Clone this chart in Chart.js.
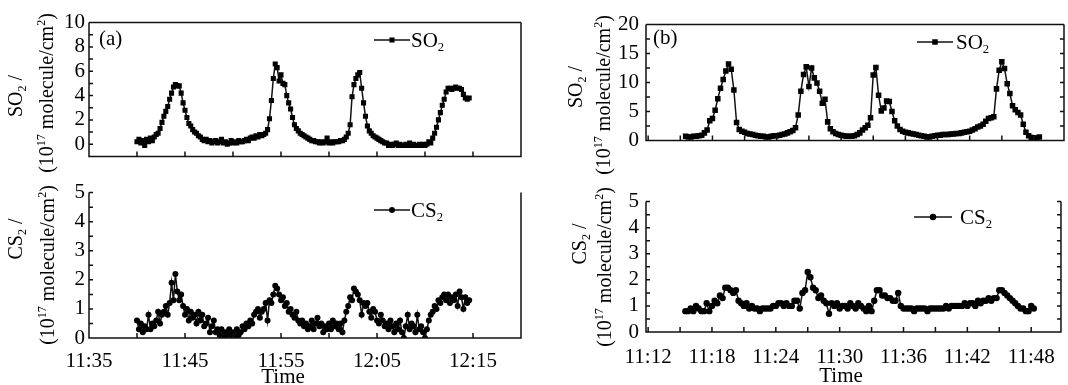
<!DOCTYPE html>
<html>
<head>
<meta charset="utf-8">
<script src="https://cdn.jsdelivr.net/npm/chart.js@4.4.1/dist/chart.umd.min.js"></script>
<style>
    body { margin: 0; background: #fff; width: 1068px; height: 385px; position: relative; overflow: hidden; font-family: "Liberation Serif", "Times New Roman", serif; color: #000; }
    canvas { position: absolute; }
    .txt { position: absolute; white-space: nowrap; line-height: 1; font-size: 21px; transform: translate(0, -50%); }
    .ytitle { position: absolute; white-space: nowrap; line-height: 1; font-size: 20px; transform: translate(-50%, -50%) rotate(-90deg); }
    .mid { transform: translate(-50%, -50%); }
    sub { font-size: 0.6em; vertical-align: -0.35em; line-height: 0; }
    sup { font-size: 0.6em; vertical-align: 0.65em; line-height: 0; }
</style>
</head>
<body>
<canvas id="aTop"></canvas>
<canvas id="aBottom"></canvas>
<canvas id="bTop"></canvas>
<canvas id="bBottom"></canvas>

<div class="txt" style="left:99px;top:38px">(a)</div>
<div class="txt" style="left:653px;top:37px">(b)</div>

<div class="txt" style="left:411px;top:40px">SO<sub>2</sub></div>
<div class="txt" style="left:411px;top:210px">CS<sub>2</sub></div>
<div class="txt" style="left:956px;top:42px">SO<sub>2</sub></div>
<div class="txt" style="left:960px;top:217px">CS<sub>2</sub></div>

<div class="ytitle" style="left:15px;top:96px">SO<sub>2</sub> /</div>
<div class="ytitle" style="left:46px;top:93px">(10<sup>17</sup> molecule/cm<sup>2</sup>)</div>
<div class="ytitle" style="left:15px;top:239px">CS<sub>2</sub> /</div>
<div class="ytitle" style="left:47px;top:265px">(10<sup>17</sup> molecule/cm<sup>2</sup>)</div>
<div class="ytitle" style="left:575px;top:87px">SO<sub>2</sub> /</div>
<div class="ytitle" style="left:603px;top:95px">(10<sup>17</sup> molecule/cm<sup>2</sup>)</div>
<div class="ytitle" style="left:579px;top:244px">CS<sub>2</sub> /</div>
<div class="ytitle" style="left:604px;top:267px">(10<sup>17</sup> molecule/cm<sup>2</sup>)</div>

<div class="txt mid" style="left:283px;top:376px">Time</div>
<div class="txt mid" style="left:841px;top:375px">Time</div>

<script>
// time is in minutes after 11:00
// panel (a): one reading every 0.2 min starting 11:40
const startA = 40;
const stepA = 0.2;
const so2A = [
    0.2, 0.4, 0.1, 0.3, -0.1, 0.4, 0.2, 0.5, 0.3, 0.6,
    0.8, 0.9, 1.3, 1.8, 2.3, 2.7, 3.1, 3.7, 4.2, 4.7,
    4.9, 4.8, 4.8, 4.2, 3.4, 2.8, 2.2, 1.7, 1.5, 1.2,
    1.0, 0.9, 0.7, 0.6, 0.4, 0.3, 0.4, 0.2, 0.3, 0.1,
    0.2, 0.3, 0.1, 0.2, 0.4, 0.1, 0.2, 0.0, 0.1, 0.3,
    0.1, 0.2, 0.1, 0.3, 0.2, 0.2, 0.3, 0.4, 0.3, 0.5,
    0.6, 0.5, 0.7, 0.6, 0.8, 0.7, 0.8, 0.9, 1.2, 2.1,
    3.6, 5.4, 6.6, 6.3, 5.2, 5.7, 5.0, 4.9, 4.0, 3.4,
    2.9, 2.2, 1.6, 1.3, 1.1, 0.9, 0.8, 0.7, 0.6, 0.5,
    0.4, 0.3, 0.3, 0.2, 0.2, 0.1, 0.2, 0.1, 0.2, 0.5,
    0.1, 0.2, 0.1, 0.2, 0.2, 0.2, 0.3, 0.3, 0.4, 0.6,
    0.9, 1.6, 3.9, 4.9, 5.4, 5.7, 5.9, 4.6, 3.4, 2.3,
    1.5, 1.1, 0.9, 0.7, 0.6, 0.5, 0.4, 0.3, 0.2, 0.1,
    0.1, -0.1, 0.0, -0.1, 0.0, 0.1, -0.1, 0.0, -0.1, -0.1,
    0.0, -0.1, 0.1, -0.1, 0.0, -0.1, -0.1, 0.0, -0.1, 0.0,
    -0.1, 0.0, 0.2, 0.1, 0.5, 0.9, 1.4, 2.0, 2.6, 3.2,
    3.7, 4.3, 4.6, 4.6, 4.5, 4.6, 4.7, 4.6, 4.6, 4.5,
    4.1, 3.8, 3.7, 3.8
];
const cs2A = [
    0.6, 0.3, 0.5, 0.2, 0.4, 0.3, 0.8, 0.3, 0.5, 0.4,
    0.6, 0.9, 0.5, 0.8, 0.9, 1.1, 0.8, 1.2, 1.9, 1.3,
    2.2, 1.6, 1.3, 1.5, 1.1, 0.8, 1.0, 0.6, 0.9, 0.7,
    0.8, 0.5, 0.9, 0.6, 0.8, 0.4, 0.5, 0.7, 0.2, 0.4,
    0.6, 0.2, 0.3, 0.1, 0.3, 0.0, 0.2, 0.1, 0.3, 0.1,
    0.2, 0.0, 0.3, 0.1, 0.2, 0.4, 0.3, 0.5, 0.4, 0.6,
    0.5, 0.8, 0.9, 1.0, 0.7, 0.9, 1.0, 1.2, 0.6, 1.3,
    1.2, 1.5, 1.8, 1.7, 1.5, 1.3, 1.4, 1.1, 1.2, 0.9,
    1.0, 0.8, 0.7, 0.9, 0.6, 0.5, 0.6, 0.4, 0.5, 0.3,
    0.4, 0.6, 0.3, 0.5, 0.7, 0.4, 0.5, 0.2, 0.4, 0.3,
    0.5, 0.3, 0.6, 0.4, 0.5, 0.3, 0.5, 0.2, 0.6, 0.9,
    1.1, 1.4, 1.3, 1.7, 1.6, 1.5, 1.3, 0.8, 1.2, 1.1,
    1.2, 0.9, 0.7, 1.0, 0.9, 0.6, 0.5, 0.8, 0.6, 0.4,
    0.5, 0.3, 0.6, 0.4, 0.2, 0.5, 0.3, 0.6, 0.2, 0.0,
    0.4, 0.8, 0.3, 0.5, 0.4, 0.2, 0.8, 0.3, 0.4, 0.2,
    0.0, 0.3, 0.6, 0.8, 0.9, 1.1, 1.0, 1.3, 1.2, 1.4,
    1.5, 1.3, 1.5, 1.2, 1.4, 1.3, 1.5, 1.1, 1.6, 1.4,
    1.0, 1.4, 1.2, 1.3
];

// panel (b): one reading every 0.25 min starting 11:15.5
const startB = 15.5;
const stepB = 0.25;
const so2B = [
    0.7, 0.6, 0.6, 0.7, 0.7, 0.8, 0.9, 1.3,
    1.8, 3.4, 3.8, 5.2, 7.2, 9.0, 10.5, 12.0,
    13.2, 12.3, 8.7, 3.1, 1.9, 1.6, 1.4, 1.2,
    1.1, 1.0, 0.9, 0.8, 0.7, 0.7, 0.6, 0.6,
    0.7, 0.8, 0.8, 0.9, 1.0, 1.1, 1.3, 1.5,
    1.7, 2.2, 4.4, 8.5, 11.4, 12.7, 9.3, 12.5,
    10.8, 9.9, 8.5, 6.4, 7.1, 3.2, 2.0, 1.5,
    1.2, 1.0, 0.9, 0.8, 0.7, 0.7, 0.7, 0.8,
    1.0, 1.3, 1.8, 2.2, 2.6, 3.9, 11.3, 12.6,
    7.8, 5.1, 5.6, 6.8, 6.7, 5.0, 3.4, 2.5,
    1.9, 1.6, 1.4, 1.3, 1.2, 1.1, 1.0, 0.9,
    0.8, 0.7, 0.6, 0.6, 0.7, 0.8, 0.9, 0.9,
    1.0, 1.0, 1.0, 1.1, 1.1, 1.2, 1.2, 1.3,
    1.4, 1.5, 1.6, 1.8, 2.0, 2.3, 2.5, 2.8,
    3.3, 3.8, 3.9, 4.1, 8.9, 12.1, 13.6, 12.4,
    9.8, 8.1, 6.0, 5.3, 4.8, 4.4, 2.8, 1.4,
    0.8, 0.5, 0.4, 0.4, 0.6
];
const cs2B = [
    0.8, 0.8, 0.9, 0.8, 1.0, 0.9, 0.8, 0.8,
    1.1, 0.8, 1.0, 1.2, 1.1, 1.4, 1.3, 1.7,
    1.7, 1.6, 1.5, 1.6, 1.2, 1.1, 1.0, 1.1,
    0.9, 1.0, 0.9, 0.9, 0.8, 0.9, 0.9, 0.9,
    0.9, 1.0, 1.0, 1.1, 1.1, 1.0, 1.1, 1.0,
    1.0, 1.2, 1.2, 0.9, 1.5, 1.6, 2.3, 2.1,
    1.7, 1.6, 1.3, 1.4, 1.2, 1.1, 0.7, 1.1,
    1.0, 1.1, 0.9, 1.0, 1.0, 0.9, 1.1, 1.0,
    0.9, 1.1, 1.0, 0.9, 0.8, 1.0, 0.8, 1.2,
    1.6, 1.6, 1.4, 1.4, 1.3, 1.3, 1.2, 1.2,
    1.5, 1.0, 0.9, 0.9, 0.9, 0.9, 0.8, 0.9,
    0.9, 0.9, 0.9, 0.8, 0.9, 0.9, 0.9, 0.9,
    0.9, 0.9, 1.0, 0.9, 1.0, 1.0, 1.0, 1.0,
    1.0, 1.1, 1.0, 1.1, 1.1, 1.0, 1.2, 1.1,
    1.2, 1.2, 1.3, 1.2, 1.3, 1.3, 1.6, 1.6,
    1.5, 1.4, 1.3, 1.2, 1.1, 1.0, 0.9, 0.9,
    0.8, 0.8, 1.0, 0.9
];

// axis ticks (minutes after 11:00 on x)
const xTicksA = [35, 40, 45, 50, 55, 60, 65, 70, 75];
const xLabelsA = [35, 45, 55, 65, 75];
const xTicksB = [12, 15, 18, 21, 24, 27, 30, 33, 36, 39, 42, 45, 48];
const xLabelsB = [12, 18, 24, 30, 36, 42, 48];
const yTicksSo2A = [0, 1, 2, 3, 4, 5, 6, 7, 8, 9, 10];
const yLabelsSo2A = [0, 2, 4, 6, 8, 10];
const yTicksSo2B = [0, 2.5, 5, 7.5, 10, 12.5, 15, 17.5, 20];
const yLabelsSo2B = [0, 5, 10, 15, 20];
const yTicksCs2 = [0, 0.5, 1, 1.5, 2, 2.5, 3, 3.5, 4, 4.5, 5];
const yLabelsCs2 = [0, 1, 2, 3, 4, 5];

function toPoints(start, step, values) {
    return values.map((v, i) => ({ x: start + i * step, y: v }));
}

function clock(m) {
    const h = 11 + Math.floor(m / 60);
    const mm = Math.round(m % 60);
    return h + ':' + String(mm).padStart(2, '0');
}

// frame, inward ticks and the legend sample
const framePlugin = {
    id: 'frame',
    afterDraw(chart, args, o) {
        const { ctx, chartArea: a } = chart;
        const x = chart.scales.x;
        const y = chart.scales.y;
        ctx.save();
        ctx.strokeStyle = '#111';
        ctx.lineWidth = 1.5;
        ctx.beginPath();
        if (o.top) {
            ctx.moveTo(a.left, a.top);
            ctx.lineTo(a.right, a.top);
        }
        ctx.moveTo(a.left, a.top);
        ctx.lineTo(a.left, a.bottom);
        ctx.lineTo(a.right, a.bottom);
        ctx.lineTo(a.right, a.top);
        o.xTicks.forEach(v => {
            const px = x.getPixelForValue(v);
            ctx.moveTo(px, a.bottom);
            ctx.lineTo(px, a.bottom - 5);
        });
        o.yTicks.forEach(v => {
            const py = y.getPixelForValue(v);
            ctx.moveTo(a.left, py);
            ctx.lineTo(a.left + 4, py);
            if (o.rightTicks) {
                ctx.moveTo(a.right, py);
                ctx.lineTo(a.right - 4, py);
            }
        });
        ctx.stroke();

        const g = o.legend;
        const cx = (g.x1 + g.x2) / 2;
        ctx.lineWidth = 1.5;
        ctx.beginPath();
        ctx.moveTo(g.x1, g.y);
        ctx.lineTo(g.x2, g.y);
        ctx.stroke();
        ctx.fillStyle = '#000';
        ctx.beginPath();
        if (g.style === 'rect') {
            const s = g.radius * Math.SQRT1_2;
            ctx.rect(cx - s, g.y - s, 2 * s, 2 * s);
        } else {
            ctx.arc(cx, g.y, g.radius, 0, Math.PI * 2);
        }
        ctx.fill();
        ctx.restore();
    }
};

const tickFont = { family: '"Liberation Serif", serif', size: 21 };

function makeChart(id, cfg) {
    const yw = 70, padTop = 12, padRight = 4;
    const xh = cfg.showX ? 45 : 5;
    const w = cfg.box.right - cfg.box.left;
    const h = cfg.box.bottom - cfg.box.top;
    const canvas = document.getElementById(id);
    const left = cfg.box.left - yw;
    const top = cfg.box.top - padTop;
    canvas.width = yw + w + padRight;
    canvas.height = padTop + h + xh;
    canvas.style.left = left + 'px';
    canvas.style.top = top + 'px';

    return new Chart(canvas, {
        type: 'line',
        data: {
            datasets: [{
                data: toPoints(cfg.start, cfg.step, cfg.values),
                borderColor: '#111',
                borderWidth: 1.5,
                pointStyle: cfg.marker,
                pointRadius: cfg.radius,
                pointBackgroundColor: '#000',
                pointBorderColor: '#000',
                pointBorderWidth: 0,
                tension: 0
            }]
        },
        options: {
            responsive: false,
            animation: false,
            devicePixelRatio: 1,
            events: [],
            layout: { padding: { left: 0, top: padTop, right: padRight, bottom: 0 } },
            plugins: {
                legend: { display: false },
                tooltip: { enabled: false },
                frame: {
                    top: cfg.frameTop,
                    rightTicks: cfg.rightTicks,
                    xTicks: cfg.xTicks,
                    yTicks: cfg.yTicks,
                    legend: {
                        x1: cfg.legend.x1 - left,
                        x2: cfg.legend.x2 - left,
                        y: cfg.legend.y - top,
                        style: cfg.marker,
                        radius: cfg.radius
                    }
                }
            },
            scales: {
                x: {
                    type: 'linear',
                    min: cfg.xMin,
                    max: cfg.xMax,
                    afterBuildTicks: s => { s.ticks = cfg.xLabels.map(v => ({ value: v })); },
                    afterFit: s => { s.height = xh; },
                    grid: { display: false, drawTicks: false },
                    border: { display: false },
                    ticks: {
                        display: cfg.showX,
                        autoSkip: false,
                        maxRotation: 0,
                        padding: cfg.xPad,
                        color: '#000',
                        font: tickFont,
                        callback: v => clock(v)
                    }
                },
                y: {
                    min: cfg.yMin,
                    max: cfg.yMax,
                    afterBuildTicks: s => { s.ticks = cfg.yLabels.map(v => ({ value: v })); },
                    afterFit: s => { s.width = yw; },
                    grid: { display: false, drawTicks: false },
                    border: { display: false },
                    ticks: { autoSkip: false, padding: cfg.yPad, color: '#000', font: tickFont }
                }
            }
        },
        plugins: [framePlugin]
    });
}

makeChart('aTop', {
    box: { left: 89, right: 521, top: 18, bottom: 168 },
    start: startA, step: stepA, values: so2A,
    marker: 'rect', radius: 3.6,
    xMin: 35, xMax: 80, xTicks: xTicksA, xLabels: xLabelsA, showX: false, xPad: 12,
    yMin: -1, yMax: 10, yTicks: yTicksSo2A, yLabels: yLabelsSo2A, yPad: 4,
    frameTop: true, rightTicks: false,
    legend: { x1: 374, x2: 410, y: 40 }
});

makeChart('aBottom', {
    box: { left: 89, right: 521, top: 188, bottom: 338 },
    start: startA, step: stepA, values: cs2A,
    marker: 'circle', radius: 3.0,
    xMin: 35, xMax: 80, xTicks: xTicksA, xLabels: xLabelsA, showX: true, xPad: 11,
    yMin: 0, yMax: 5, yTicks: yTicksCs2, yLabels: yLabelsCs2, yPad: 4,
    frameTop: false, rightTicks: false,
    legend: { x1: 374, x2: 410, y: 210 }
});

makeChart('bTop', {
    box: { left: 646, right: 1064, top: 17, bottom: 155 },
    start: startB, step: stepB, values: so2B,
    marker: 'rect', radius: 3.9,
    xMin: 11.8, xMax: 50.8, xTicks: xTicksB, xLabels: xLabelsB, showX: false, xPad: 14,
    yMin: 0, yMax: 20, yTicks: yTicksSo2B, yLabels: yLabelsSo2B, yPad: 7,
    frameTop: true, rightTicks: true,
    legend: { x1: 917, x2: 953, y: 42 }
});

makeChart('bBottom', {
    box: { left: 646, right: 1064, top: 194, bottom: 332 },
    start: startB, step: stepB, values: cs2B,
    marker: 'circle', radius: 3.2,
    xMin: 11.8, xMax: 50.8, xTicks: xTicksB, xLabels: xLabelsB, showX: true, xPad: 13,
    yMin: 0, yMax: 5, yTicks: yTicksCs2, yLabels: yLabelsCs2, yPad: 7,
    frameTop: false, rightTicks: true,
    legend: { x1: 914, x2: 952, y: 217 }
});
</script>
</body>
</html>
